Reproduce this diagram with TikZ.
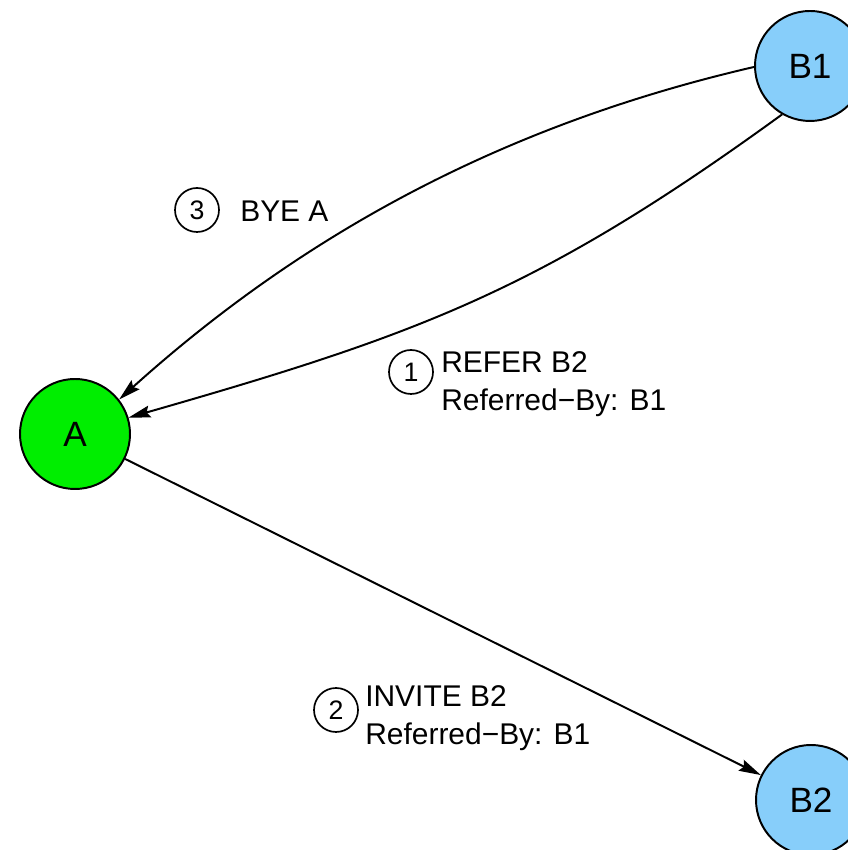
\documentclass[tikz,border=0pt]{standalone}
\usepackage{fontspec}
\setmainfont{Liberation Sans}
\usepackage{tikz}
\usetikzlibrary{arrows.meta}
\definecolor{partyblue}{RGB}{135,206,250}
\definecolor{partygreen}{RGB}{0,238,0}

\begin{document}
\begin{tikzpicture}[
	party/.style={circle, draw=black, line width=1.4pt, minimum size=2.75cm,
		inner sep=0pt, font=\fontsize{25}{30}\selectfont},
	num/.style={circle, draw=black, line width=1.2pt, minimum size=1.1cm,
		inner sep=0pt, font=\fontsize{19}{21}\selectfont},
	msg/.style={align=left, inner sep=0pt, anchor=base west,
		font=\fontsize{21.3}{27.5}\selectfont},
	flow/.style={-{Stealth[length=5.5mm, width=3mm, inset=0.8mm]}, line width=1.4pt}
	]
	\clip (0,0) rectangle (21.2,21.25);
	
	% ---- parties ----
	\node[party, fill=partyblue]  (B1) at (20.25,19.6) {B1};
	\node[party, fill=partygreen] (A)  at (1.875,10.4) {A};
	\node[party, fill=partyblue]  (B2) at (20.275,1.25) {B2};
	
	% ---- messages ----
	\node[num] (n3) at (4.925,16.0) {3};
	\node[msg] (bye) at (6.0,15.7) {BYE A};
	
	\node[num] (n1) at (10.275,11.95) {1};
	\node[msg] (refer) at (11.025,10.975) {REFER B2\\Referred−By: B1};
	
	\node[num] (n2) at (8.4,3.5) {2};
	\node[msg] (invite) at (9.125,2.625) {INVITE B2\\Referred−By: B1};
	
	% ---- arrows ----
	\draw[flow] (B1.181) to[out=193, in=42, looseness=0.9] (A.38);
	\draw[flow] (B1.240) to[out=216, in=16, looseness=1.07] (A.17);
	\draw[flow] (A) -- (B2);
	
\end{tikzpicture}
\end{document}
